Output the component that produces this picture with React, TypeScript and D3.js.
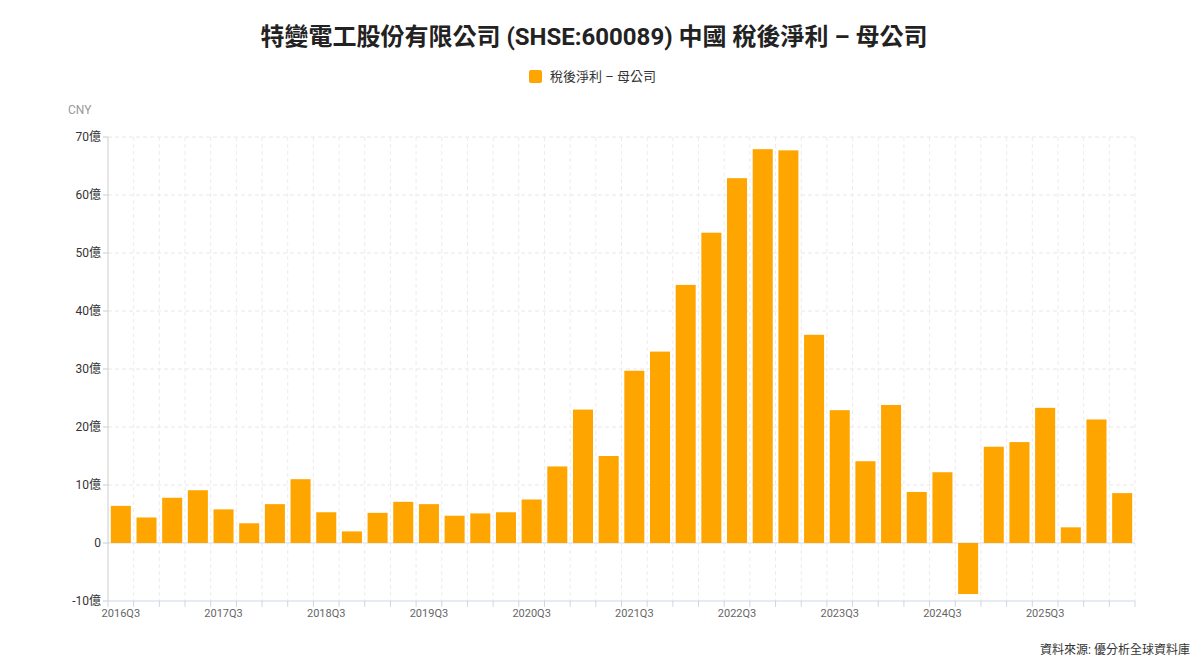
import * as d3 from 'd3';

const quarters = [
  '2016Q3', '2016Q4', '2017Q1', '2017Q2', '2017Q3', '2017Q4', '2018Q1', '2018Q2',
  '2018Q3', '2018Q4', '2019Q1', '2019Q2', '2019Q3', '2019Q4', '2020Q1', '2020Q2',
  '2020Q3', '2020Q4', '2021Q1', '2021Q2', '2021Q3', '2021Q4', '2022Q1', '2022Q2',
  '2022Q3', '2022Q4', '2023Q1', '2023Q2', '2023Q3', '2023Q4', '2024Q1', '2024Q2',
  '2024Q3', '2024Q4', '2025Q1', '2025Q2', '2025Q3', '2025Q4', '2026Q1', '2026Q2',
];

// 億 CNY
const netIncome = [
  6.4, 4.4, 7.8, 9.1, 5.8, 3.4, 6.7, 11.0,
  5.3, 2.0, 5.2, 7.1, 6.7, 4.7, 5.1, 5.3,
  7.5, 13.2, 23.0, 15.0, 29.7, 33.0, 44.5, 53.5,
  62.9, 67.9, 67.7, 35.9, 22.9, 14.1, 23.8, 8.8,
  12.2, -8.8, 16.6, 17.4, 23.3, 2.7, 21.3, 8.6,
];

const xLabels = ['2016Q3', '2017Q3', '2018Q3', '2019Q3', '2020Q3', '2021Q3', '2022Q3', '2023Q3', '2024Q3', '2025Q3'];
const yTicks = [-10, 0, 10, 20, 30, 40, 50, 60, 70];

const title = '特變電工股份有限公司 (SHSE:600089) 中國 稅後淨利 – 母公司';
const seriesName = '稅後淨利 – 母公司';

export default function App() {
  const width = 1200;
  const height = 671;
  const margins = { top: 137, bottom: 70, left: 108, right: 65 };
  const font = 'Roboto, "Noto Sans CJK TC", sans-serif';

  const xScale = d3
    .scaleBand()
    .domain(quarters)
    .range([margins.left, width - margins.right])
    .paddingInner(0.22)
    .paddingOuter(0.11);

  const yScale = d3
    .scaleLinear()
    .domain([-10, 70])
    .range([height - margins.bottom, margins.top]);

  const step = xScale.step();
  const x0 = margins.left;
  const boundaries = d3.range(quarters.length + 1).map((i) => x0 + i * step);

  return (
    <svg
      width={width}
      height={height}
      viewBox={`0 0 ${width} ${height}`}
      style={{ position: 'absolute', left: 0, top: 0, background: '#fff' }}
      fontFamily={font}
    >
      <text x={594} y={45} textAnchor='middle' fontSize={24} fontWeight='bold' fill='#222'>
        {title}
      </text>

      {/* legend */}
      <rect x={529} y={70} width={13} height={13} rx={2} fill='#FFA500' />
      <text x={550} y={81} fontSize={13} fill='#333'>
        {seriesName}
      </text>

      <text x={68} y={114} fontSize={12} fill='#999'>
        CNY
      </text>

      {/* horizontal grid */}
      {yTicks.map((t) => (
        <g key={t} transform={`translate(0, ${yScale(t)})`}>
          {t !== -10 && (
            <line
              x1={margins.left}
              x2={width - margins.right}
              stroke={t === 0 ? '#d5dbe8' : '#e8e8e8'}
              strokeDasharray={t === 0 ? undefined : '4,3'}
            />
          )}
          <line x1={margins.left - 5} x2={margins.left} stroke='#ccc' />
          <text x={margins.left - 7} dy='0.35em' textAnchor='end' fontSize={12} fill='#333'>
            {t === 0 ? '0' : `${t}億`}
          </text>
        </g>
      ))}

      {/* vertical grid */}
      {boundaries.slice(1).map((bx, i) => (
        <line
          key={i}
          x1={bx}
          x2={bx}
          y1={margins.top}
          y2={height - margins.bottom}
          stroke='#ececec'
          strokeDasharray='4,3'
        />
      ))}

      {/* bars */}
      {quarters.map((q, i) => {
        const v = netIncome[i];
        return (
          <rect
            key={q}
            x={xScale(q) as number}
            y={yScale(Math.max(0, v))}
            width={xScale.bandwidth()}
            height={Math.abs(yScale(v) - yScale(0))}
            fill='#FFA500'
          />
        );
      })}

      {/* axes */}
      <line x1={margins.left} x2={margins.left} y1={margins.top} y2={height - margins.bottom} stroke='#ccc' />
      <line
        x1={margins.left}
        x2={width - margins.right}
        y1={height - margins.bottom}
        y2={height - margins.bottom}
        stroke='#ccd6eb'
      />
      {boundaries.map((bx, i) => (
        <line
          key={i}
          x1={bx}
          x2={bx}
          y1={height - margins.bottom}
          y2={height - margins.bottom + 6}
          stroke='#ccd6eb'
        />
      ))}
      {xLabels.map((l) => (
        <text
          key={l}
          x={(xScale(l) as number) + xScale.bandwidth() / 2}
          y={height - margins.bottom + 16}
          textAnchor='middle'
          fontSize={11}
          fill='#666'
        >
          {l}
        </text>
      ))}

      <text x={1190} y={654} textAnchor='end' fontSize={12} fill='#333'>
        資料來源: 優分析全球資料庫
      </text>
    </svg>
  );
}
